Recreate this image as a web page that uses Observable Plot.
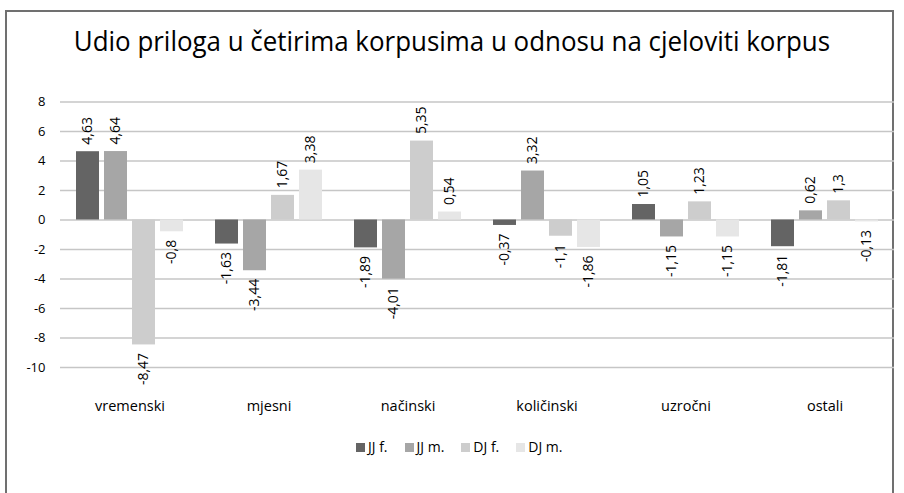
<!DOCTYPE html>
<html>
<head>
<meta charset="utf-8">
<script src="https://cdn.jsdelivr.net/npm/d3@7"></script>
<script src="https://cdn.jsdelivr.net/npm/@observablehq/plot@0.6"></script>
<style>
  body { margin: 0; background: #fff; width: 904px; height: 493px; overflow: hidden; position: relative; font-family: "Open Sans", sans-serif; color: #000; }
  #frame { position: absolute; left: 5px; top: 10px; width: 889px; height: 560px; border: 2px solid #707070; box-sizing: border-box; }
  #title { position: absolute; left: 0; width: 904px; top: 24px; text-align: center; font-size: 27px; line-height: 34px; white-space: nowrap; }
  #title span { display: inline-block; transform: scaleX(0.96); transform-origin: center; }
  #chart { position: absolute; left: 0; top: 70px; }
  #legend { position: absolute; left: 356px; top: 437px; display: flex; align-items: center; font-size: 14px; line-height: 20px; }
  #legend .item { display: flex; align-items: center; margin-right: 17px; }
  #legend .sw { width: 9px; height: 9px; margin-right: 3px; }
</style>
</head>
<body>
<div id="frame"></div>
<div id="title"><span>Udio priloga u četirima korpusima u odnosu na cjeloviti korpus</span></div>
<div id="chart"></div>
<div id="legend"></div>
<script>
const categories = ["vremenski", "mjesni", "načinski", "količinski", "uzročni", "ostali"];
const series = ["JJ f.", "JJ m.", "DJ f.", "DJ m."];
const jjF = [4.63, -1.63, -1.89, -0.37, 1.05, -1.81];
const jjM = [4.64, -3.44, -4.01, 3.32, -1.15, 0.62];
const djF = [-8.47, 1.67, 5.35, -1.1, 1.23, 1.3];
const djM = [-0.8, 3.38, 0.54, -1.86, -1.15, -0.13];
const yTicks = [8, 6, 4, 2, 0, -2, -4, -6, -8, -10];

const valuesBySeries = [jjF, jjM, djF, djM];
const data = [];
categories.forEach((cat, i) => {
  series.forEach((s, j) => data.push({cat, series: s, value: valuesBySeries[j][i]}));
});
const fmt = d => String(d).replace(".", ",");

const chart = Plot.plot({
  width: 904,
  height: 355,
  marginLeft: 60,
  marginRight: 10,
  marginTop: 31.5,
  marginBottom: 58,
  style: {fontFamily: "'Open Sans', sans-serif", fontSize: "13px", color: "#000", background: "transparent"},
  fx: {domain: categories, padding: 0},
  x: {domain: series, axis: null, paddingInner: 0.18, paddingOuter: 0.57},
  y: {domain: [-10, 8]},
  color: {domain: series, range: ["#646464", "#a6a6a6", "#cdcdcd", "#e6e6e6"]},
  marks: [
    Plot.ruleY(yTicks, {stroke: "#c6c6c6", strokeWidth: 1.5}),
    Plot.barY(data, {fx: "cat", x: "series", y: "value", fill: "series"}),
    Plot.text(data.filter(d => d.value >= 0), {fx: "cat", x: "series", y: "value", text: d => fmt(d.value), rotate: -90, textAnchor: "start", dy: -7, fontSize: 14, fill: "#000"}),
    Plot.text(data.filter(d => d.value < 0), {fx: "cat", x: "series", y: "value", text: d => fmt(d.value), rotate: -90, textAnchor: "end", dy: 8, fontSize: 14, fill: "#000"}),
    Plot.axisY({ticks: yTicks, tickSize: 0, tickPadding: 15, tickFormat: fmt, fontSize: 13, label: null}),
    Plot.axisFx({anchor: "bottom", tickSize: 0, tickPadding: 33, fontSize: 14.5, label: null})
  ]
});
document.getElementById("chart").appendChild(chart);

const colorScale = chart.scale("color");
const legend = d3.select("#legend");
series.forEach((s, j) => {
  const item = legend.append("div").attr("class", "item");
  item.append("div").attr("class", "sw").style("background", colorScale.range[j]);
  item.append("span").text(s);
});
</script>
</body>
</html>
